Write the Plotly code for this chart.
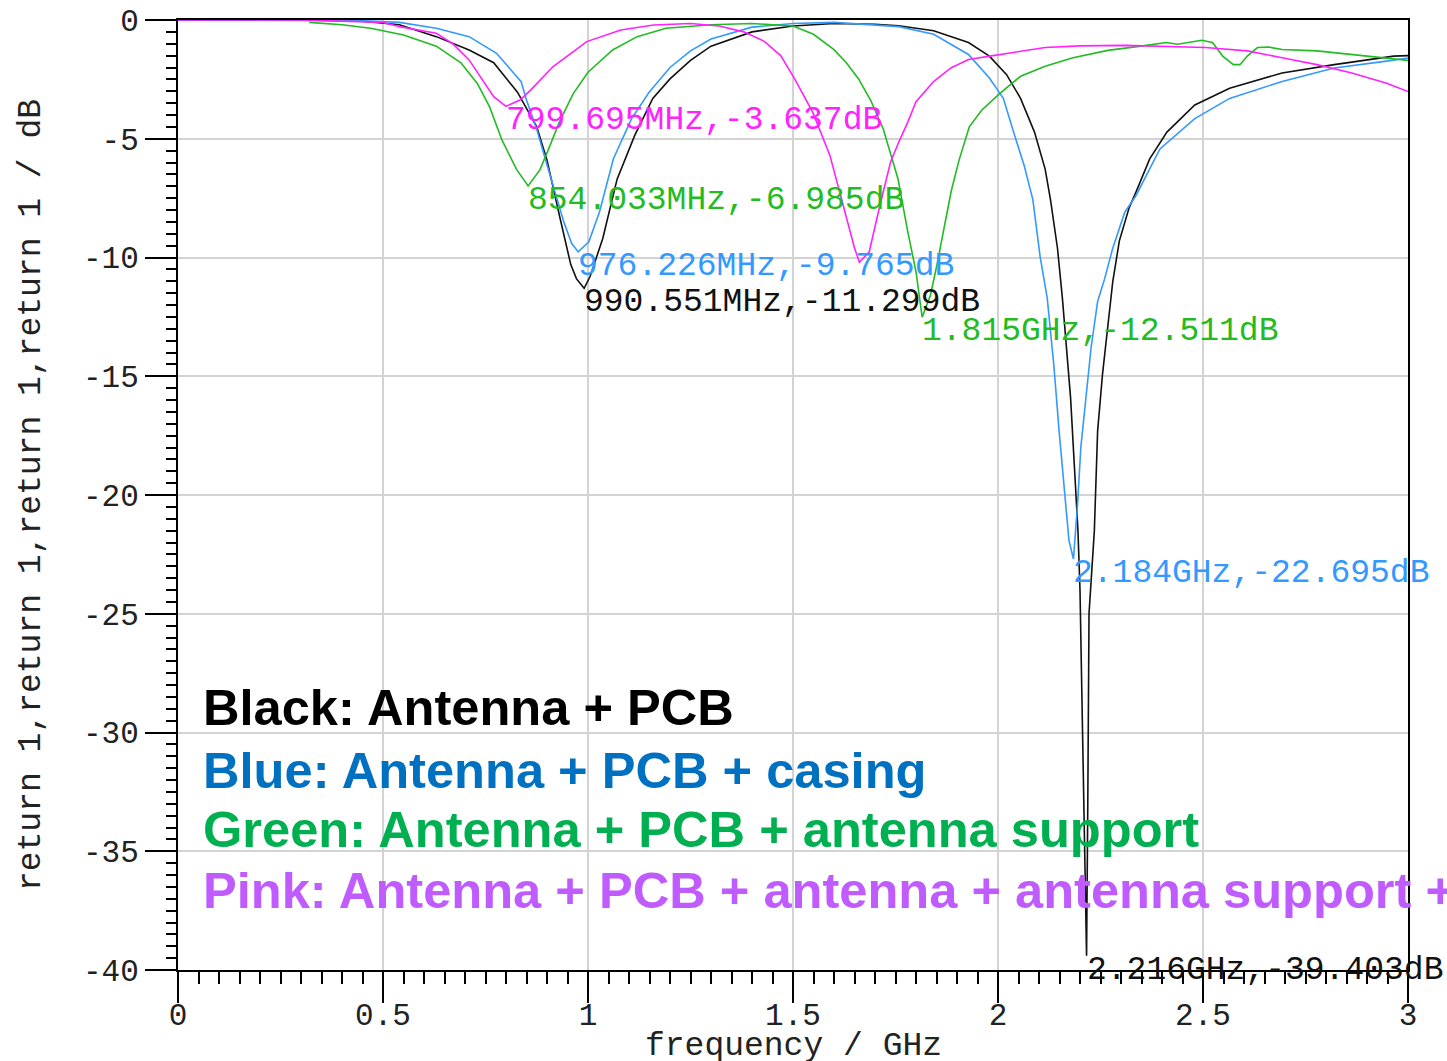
import plotly.graph_objects as go

# ---------------- data ----------------
black_f = [0, 0.3, 0.45, 0.54, 0.63, 0.71, 0.77, 0.828, 0.875, 0.9, 0.932, 0.958, 0.972, 0.9906,
           1.005, 1.036, 1.071, 1.114, 1.158, 1.2, 1.25, 1.3, 1.4, 1.5, 1.6, 1.7, 1.758, 1.843,
           1.928, 1.979, 2.021, 2.055, 2.089, 2.115, 2.128, 2.145, 2.157, 2.169, 2.177, 2.186,
           2.195, 2.2, 2.21, 2.216, 2.219, 2.222, 2.235, 2.243, 2.255, 2.268, 2.28, 2.296, 2.32,
           2.336, 2.37, 2.412, 2.48, 2.565, 2.693, 2.82, 2.965, 3.0]
black_db = [0, 0, -0.05, -0.2, -0.7, -1.26, -1.8, -3.04, -4.5, -5.9, -8.36, -10.3, -10.9, -11.299,
            -10.8, -9.2, -6.7, -4.86, -3.3, -2.48, -1.7, -1.1, -0.5, -0.25, -0.15, -0.18, -0.24, -0.45,
            -0.95, -1.52, -2.3, -3.3, -4.72, -6.28, -7.56, -9.6, -11.7, -14.2, -15.9, -18.7,
            -21.5, -24.0, -34.0, -39.403, -33.0, -25.0, -21.5, -17.3, -14.9, -12.8, -11.0, -9.3, -7.9,
            -7.27, -5.85, -4.72, -3.58, -2.87, -2.23, -1.88, -1.52, -1.5]

blue_f = [0, 0.3, 0.45, 0.54, 0.63, 0.71, 0.777, 0.817, 0.837, 0.85, 0.875, 0.898, 0.92, 0.941,
          0.96, 0.976, 1.002, 1.028, 1.062, 1.106, 1.149, 1.2, 1.25, 1.3, 1.4, 1.5, 1.6, 1.7,
          1.758, 1.843, 1.928, 1.979, 2.013, 2.038, 2.064, 2.085, 2.103, 2.12, 2.136, 2.149,
          2.161, 2.173, 2.184, 2.194, 2.202, 2.214, 2.227, 2.243, 2.26, 2.28, 2.309, 2.336,
          2.395, 2.48, 2.565, 2.693, 2.82, 2.948, 3.0]
blue_db = [0, 0, -0.03, -0.1, -0.35, -0.7, -1.4, -2.2, -2.6, -3.37, -4.6, -5.98, -7.3, -8.5,
           -9.4, -9.765, -9.34, -8.08, -5.84, -4.16, -3.04, -2.0, -1.3, -0.8, -0.3, -0.15, -0.1, -0.2,
           -0.28, -0.6, -1.45, -2.44, -3.3, -4.72, -6.14, -7.56, -10.0, -11.7, -14.5, -17.3,
           -19.55, -21.9, -22.695, -20.4, -18.0, -15.9, -13.8, -11.85, -10.9, -9.6, -8.1, -7.41,
           -5.43, -4.15, -3.3, -2.59, -2.02, -1.73, -1.6]

green_f = [0.32, 0.4, 0.47, 0.55, 0.63, 0.69, 0.73, 0.76, 0.79, 0.826, 0.854, 0.883, 0.907, 0.93,
           0.964, 1.0, 1.06, 1.12, 1.19, 1.3, 1.4, 1.5, 1.55, 1.6, 1.63, 1.66, 1.69, 1.72, 1.756,
           1.78, 1.8, 1.815, 1.835, 1.85, 1.868, 1.886, 1.905, 1.93, 1.96, 2.004, 2.055, 2.115,
           2.183, 2.268, 2.353, 2.41, 2.438, 2.497, 2.523, 2.548, 2.574, 2.59, 2.608, 2.633,
           2.66, 2.693, 2.778, 2.863, 3.0]
green_db = [-0.1, -0.2, -0.35, -0.63, -1.1, -1.8, -2.67, -3.66, -5.05, -6.3, -6.985, -6.3, -5.3, -4.3,
            -3.1, -2.2, -1.26, -0.7, -0.35, -0.2, -0.15, -0.25, -0.6, -1.25, -1.8, -2.48, -3.4, -4.58,
            -6.68, -8.92, -10.6, -12.511, -11.6, -10.4, -8.8, -7.2, -5.9, -4.5, -3.8, -3.1, -2.37,
            -1.95, -1.59, -1.28, -1.09, -0.95, -1.02, -0.85, -0.95, -1.52, -1.88, -1.88, -1.52,
            -1.16, -1.14, -1.24, -1.3, -1.45, -1.7]

pink_f = [0, 0.3, 0.5, 0.54, 0.63, 0.67, 0.71, 0.744, 0.77, 0.7997, 0.834, 0.86, 0.915, 0.997,
          1.08, 1.16, 1.25, 1.32, 1.38, 1.43, 1.47, 1.504, 1.548, 1.59, 1.626, 1.65, 1.662, 1.686,
          1.712, 1.738, 1.758, 1.78, 1.8, 1.843, 1.885, 1.928, 1.98, 2.03, 2.115, 2.2, 2.31,
          2.506, 2.608, 2.693, 2.778, 2.863, 2.948, 3.0]
pink_db = [0, 0, -0.1, -0.28, -0.56, -1.0, -1.68, -2.53, -3.23, -3.637, -3.37, -2.95, -1.96, -0.91,
           -0.42, -0.21, -0.15, -0.25, -0.5, -0.9, -1.5, -2.48, -3.88, -5.7, -8.08, -9.6, -10.2, -9.76,
           -7.8, -5.98, -5.14, -4.3, -3.44, -2.59, -2.02, -1.66, -1.52, -1.38, -1.16, -1.09, -1.07,
           -1.16, -1.3, -1.59, -1.88, -2.23, -2.66, -3.01]

# marker readouts
marker_f = [0.799695, 0.854033, 0.976226, 0.990551, 1.815, 2.184, 2.216]
marker_db = [-3.637, -6.985, -9.765, -11.299, -12.511, -22.695, -39.403]
marker_text = ["799.695MHz,-3.637dB", "854.033MHz,-6.985dB", "976.226MHz,-9.765dB",
               "990.551MHz,-11.299dB", "1.815GHz,-12.511dB", "2.184GHz,-22.695dB",
               "2.216GHz,-39.403dB"]
marker_series = ["pink", "green", "blue", "black", "green", "blue", "black"]

legend_lines = ["Black: Antenna + PCB",
                "Blue: Antenna + PCB + casing",
                "Green: Antenna + PCB + antenna support",
                "Pink: Antenna + PCB + antenna + antenna support +"]

x_title = "frequency / GHz"
y_title = "return 1,return 1,return 1,return 1 / dB"
x_ticks = [0, 0.5, 1, 1.5, 2, 2.5, 3]
x_ticklabels = ["0", "0.5", "1", "1.5", "2", "2.5", "3"]
y_ticks = [0, -5, -10, -15, -20, -25, -30, -35, -40]
y_ticklabels = ["0", "-5", "-10", "-15", "-20", "-25", "-30", "-35", "-40"]

# ---------------- styling ----------------
curve_colors = {"black": "#111111", "blue": "#3399FF", "green": "#22BB22", "pink": "#FF22FF"}
legend_colors = ["#000000", "#0070C0", "#00B050", "#BF5BFF"]
mono = "Liberation Mono, Courier New, monospace"

fig = go.Figure()
for name, f, d in [("black", black_f, black_db), ("blue", blue_f, blue_db),
                   ("green", green_f, green_db), ("pink", pink_f, pink_db)]:
    fig.add_trace(go.Scatter(x=f, y=d, mode="lines", name=name,
                             line=dict(color=curve_colors[name], width=1.6),
                             showlegend=False, hoverinfo="skip"))

annotations = []
for f, d, t, s in zip(marker_f, marker_db, marker_text, marker_series):
    annotations.append(dict(x=f, y=d, xref="x", yref="y", text=t, showarrow=False,
                            xanchor="left", yanchor="top", yshift=6, xshift=-2,
                            font=dict(family=mono, size=33, color=curve_colors[s])))

legend_y = [0.2758, 0.2105, 0.1474, 0.0832]
for txt, col, yy in zip(legend_lines, legend_colors, legend_y):
    annotations.append(dict(x=0.019, y=yy, xref="paper", yref="paper", text=txt,
                            showarrow=False, xanchor="left", yanchor="middle",
                            font=dict(family="Liberation Sans, Arial, sans-serif", size=50.6,
                                      color=col, weight="bold")))

# x-axis title, placed like the reference (partly below the page edge)
annotations.append(dict(x=0.5, y=-0.081, xref="paper", yref="paper", text=x_title,
                        showarrow=False, xanchor="center", yanchor="middle",
                        font=dict(family=mono, size=33, color="#222222")))

tickfont = dict(family=mono, size=31, color="#222222")

fig.update_layout(
    width=1447, height=1061,
    margin=dict(l=178, r=39, t=20, b=91),
    paper_bgcolor="white", plot_bgcolor="white",
    annotations=annotations,
    xaxis=dict(range=[0, 3], tickmode="array", tickvals=x_ticks, ticktext=x_ticklabels,
               ticks="outside", ticklen=31, tickwidth=2, tickcolor="black",
               ticklabelstandoff=-15,
               showline=True, linecolor="black", linewidth=2, mirror=True,
               showgrid=True, gridcolor="#D3D3D3", gridwidth=2, zeroline=False,
               tickfont=tickfont,
               minor=dict(dtick=0.05, tick0=0, ticks="outside", ticklen=12, tickwidth=2,
                          tickcolor="black", showgrid=False),
               automargin=False),
    yaxis=dict(range=[-40, 0], tickmode="array", tickvals=y_ticks, ticktext=y_ticklabels,
               ticks="outside", ticklen=31, tickwidth=2, tickcolor="black",
               showline=True, linecolor="black", linewidth=2, mirror=True,
               showgrid=True, gridcolor="#D3D3D3", gridwidth=2, zeroline=False,
               tickfont=tickfont,
               minor=dict(dtick=0.5, tick0=0, ticks="outside", ticklen=10, tickwidth=2,
                          tickcolor="black", showgrid=False),
               title=dict(text=y_title,
                          font=dict(family=mono, size=33, color="#222222"), standoff=32),
               automargin=False),
    xaxis2=dict(overlaying="x", anchor="y", side="bottom", range=[0, 3], tickmode="linear",
                tick0=0, dtick=0.1, ticks="outside", ticklen=23, tickwidth=2, tickcolor="black",
                showticklabels=False, showgrid=False, showline=False, zeroline=False),
    yaxis2=dict(overlaying="y", anchor="x", side="left", range=[-40, 0], tickmode="linear",
                tick0=0, dtick=1, ticks="outside", ticklen=21, tickwidth=2, tickcolor="black",
                showticklabels=False, showgrid=False, showline=False, zeroline=False),
)

fig.write_html("out.html")
